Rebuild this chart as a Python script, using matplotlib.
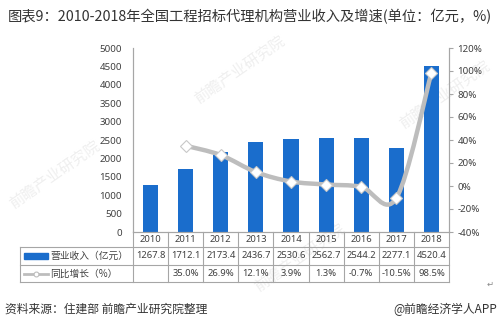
import matplotlib.pyplot as plt
import numpy as np
from matplotlib.path import Path
from matplotlib.patches import PathPatch, Rectangle
from matplotlib.lines import Line2D

plt.rcParams['font.family'] = ['Noto Sans CJK SC', 'DejaVu Sans']

# revenue of tendering agencies (100 million yuan) and YoY growth (%)
years = ['2010', '2011', '2012', '2013', '2014', '2015', '2016', '2017', '2018']
revenue = [1267.8, 1712.1, 2173.4, 2436.7, 2530.6, 2562.7, 2544.2, 2277.1, 4520.4]
growth_years = years[1:]
growth = [35.0, 26.9, 12.1, 3.9, 1.3, -0.7, -10.5, 98.5]

rev_labels = ['%.1f' % v for v in revenue]
growth_labels = [''] + ['%.1f%%' % v for v in growth]

title = '图表9：2010-2018年全国工程招标代理机构营业收入及增速(单位：亿元，%)'
source = '资料来源：住建部 前瞻产业研究院整理'
brand = '@前瞻经济学人APP'
row_names = ['营业收入（亿元）', '同比增长（%）']

BLUE = '#1a6dcc'
GREY = '#bdbdbd'
TXT = '#404040'
GRID = '#a6a6a6'
NUMFONT = ['Noto Sans', 'DejaVu Sans']

fig = plt.figure(figsize=(5, 3.26), dpi=100)
W, H = 500, 326
# plot area in pixels: x 133..449, y 48..232
ax = fig.add_axes([133 / W, 1 - 232 / H, 316 / W, 184 / H])
ax2 = ax.twinx()
ax.patch.set_alpha(0)
ax2.patch.set_alpha(0)

x = np.arange(len(years))
ax.bar(x, revenue, width=0.43, color=BLUE, zorder=2)
ax.set_xlim(-0.5, len(years) - 0.5)
ax.set_ylim(0, 5000)
ax.set_yticks(np.arange(0, 5001, 500))
ax.set_xticks([])
ax.tick_params(axis='y', length=0, labelsize=7, colors=TXT, pad=8)

ax2.set_ylim(-40, 120)
ax2.set_yticks(np.arange(-40, 121, 20))
ax2.set_yticklabels(['%d%%' % v for v in range(-40, 121, 20)])
ax2.tick_params(axis='y', length=3, width=0.8, color=GRID, labelsize=7,
                labelcolor=TXT, pad=3)
for lab in ax.get_yticklabels() + ax2.get_yticklabels():
    lab.set_family(NUMFONT)

for a in (ax, ax2):
    a.spines['top'].set_visible(False)
    for s in ('left', 'right', 'bottom'):
        a.spines[s].set_color(GRID)
        a.spines[s].set_linewidth(0.8)

# smoothed growth line (Catmull-Rom through the data points, drawn as Bezier path)
gx = x[1:].astype(float)
gy = np.array(growth)
pts = np.column_stack([gx, gy])
verts = [pts[0]]
codes = [Path.MOVETO]
n = len(pts)
for i in range(n - 1):
    p0 = pts[i - 1] if i > 0 else pts[i]
    p1 = pts[i]
    p2 = pts[i + 1]
    p3 = pts[i + 2] if i + 2 < n else pts[i + 1]
    c1 = p1 + (p2 - p0) / 6.0
    c2 = p2 - (p3 - p1) / 6.0
    verts += [c1, c2, p2]
    codes += [Path.CURVE4] * 3
ax2.add_patch(PathPatch(Path(verts, codes), facecolor='none', edgecolor=GREY,
                        lw=3.2, capstyle='round', joinstyle='round', zorder=3))
ax2.plot(gx, gy, linestyle='none', marker='D', ms=6, mfc='white',
         mec='#c8c8c8', mew=0.8, zorder=4)

# data table under the chart
tr = ax.transAxes
def px(xp):
    return (xp - 133) / 316.0
def py(yp):
    return (232 - yp) / 184.0

line_kw = dict(color=GRID, lw=0.8, transform=tr, clip_on=False)
for yl in (247, 265, 282):
    ax.add_line(Line2D([px(20), 1], [py(yl)] * 2, **line_kw))
for k in range(len(years) + 1):
    xv = k / len(years)
    ax.add_line(Line2D([xv, xv], [py(232), py(282)], **line_kw))
ax.add_line(Line2D([px(20), px(20)], [py(247), py(282)], **line_kw))

for k, yr in enumerate(years):
    xc = (k + 0.5) / len(years)
    ax.text(xc, py(239.5), yr, transform=tr, ha='center', va='center',
            fontsize=6.8, color=TXT, family=NUMFONT)
    ax.text(xc, py(256), rev_labels[k], transform=tr, ha='center', va='center',
            fontsize=6.8, color=TXT, family=NUMFONT)
    ax.text(xc, py(273.5), growth_labels[k], transform=tr, ha='center',
            va='center', fontsize=6.8, color=TXT, family=NUMFONT)

# legend keys inside row headers
ax.add_patch(Rectangle((px(24), py(259)), px(48) - px(24), py(253) - py(259),
                       transform=tr, color=BLUE, clip_on=False))
ax.add_line(Line2D([px(24), px(48)], [py(273.5)] * 2, color=GREY, lw=2,
                   transform=tr, clip_on=False))
ax.add_line(Line2D([px(36)], [py(273.5)], marker='o', ms=3.5, mfc='white',
                   mec=GREY, mew=0.8, transform=tr, clip_on=False))
ax.text(px(50), py(256), row_names[0], transform=tr, ha='left', va='center',
        fontsize=7, color=TXT)
ax.text(px(50), py(273.5), row_names[1], transform=tr, ha='left', va='center',
        fontsize=7, color=TXT)

# faint brand watermarks, kept behind the axes
for (wx, wy) in [(55, 175), (240, 70), (445, 95), (300, 258)]:
    fig.text(wx / W, 1 - wy / H, '前瞻产业研究院', fontsize=11, color='#efefef',
             rotation=35, ha='center', va='center', zorder=-1)

fig.text(8 / W, 1 - 17 / H, title, fontsize=10.3, color='#333333',
         ha='left', va='center')
fig.text(5 / W, 1 - 309 / H, source, fontsize=8.5, color='#333333',
         ha='left', va='center')
fig.text(497 / W, 1 - 309 / H, brand, fontsize=8.5, color='#333333',
         ha='right', va='center')
fig.text(490 / W, 1 - 284 / H, '↵', fontsize=6, color='#888888',
         ha='center', va='center', family='DejaVu Sans')

fig.savefig('out.png', dpi=100)
